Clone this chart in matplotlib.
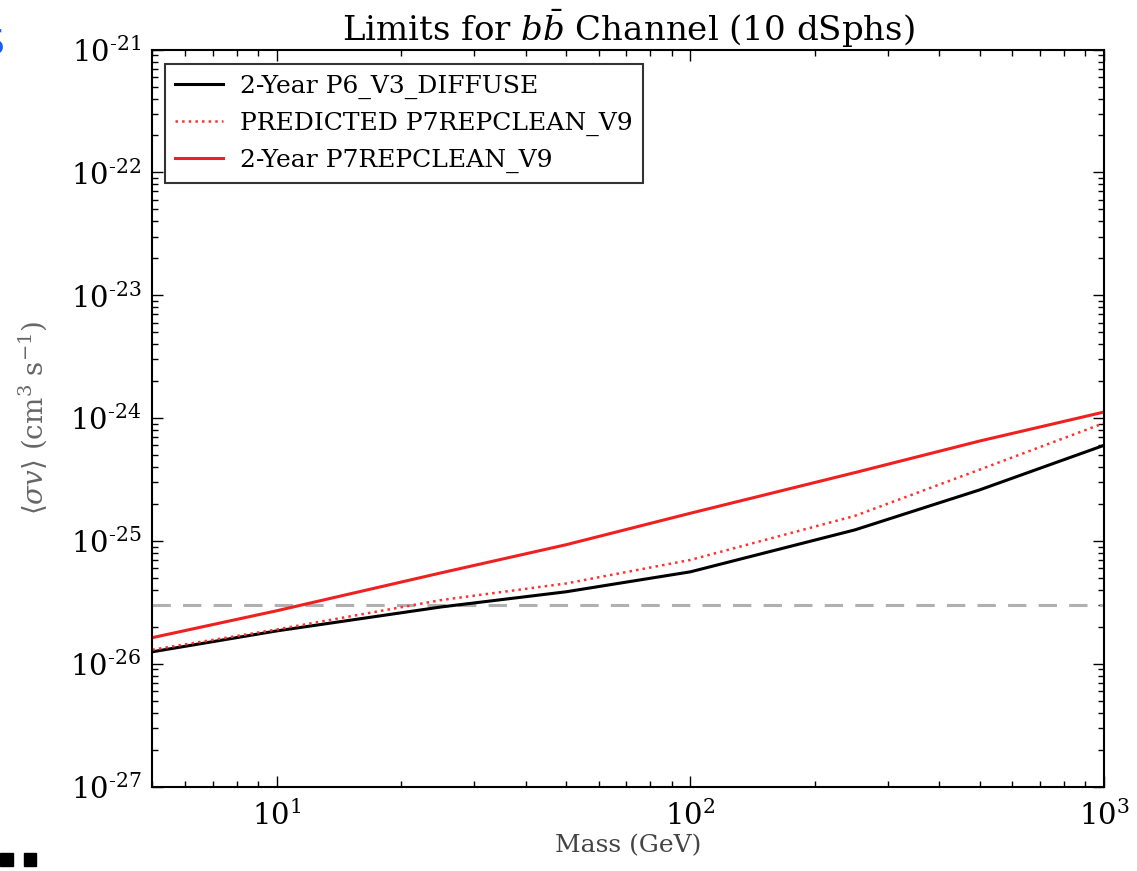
import matplotlib
matplotlib.use("Agg")
import matplotlib.pyplot as plt
from matplotlib.patches import Rectangle
import numpy as np

plt.rcParams['font.family'] = 'DejaVu Serif'
plt.rcParams['mathtext.fontset'] = 'dejavuserif'

# masses (GeV) and 95% upper limits on <sigma v> (cm^3 s^-1)
mass = [5, 10, 25, 50, 100, 250, 500, 1000]
p6_diffuse = [1.25e-26, 1.85e-26, 2.9e-26, 3.85e-26, 5.6e-26, 1.23e-25, 2.6e-25, 6.0e-25]
p7_predicted = [1.3e-26, 1.9e-26, 3.3e-26, 4.5e-26, 7.0e-26, 1.6e-25, 3.8e-25, 9.1e-25]
p7_repclean = [1.63e-26, 2.7e-26, 5.5e-26, 9.3e-26, 1.68e-25, 3.6e-25, 6.5e-25, 1.12e-24]
thermal_xsec = 3e-26

labels = ["2-Year P6_V3_DIFFUSE", "PREDICTED P7REPCLEAN_V9", "2-Year P7REPCLEAN_V9"]
y_exps = list(range(-27, -20))
x_exps = [1, 2, 3]

fig = plt.figure(figsize=(11.37, 8.71), dpi=100)
ax = fig.add_axes([0.134, 0.097, 0.837, 0.846])

ax.axhline(thermal_xsec, color='#b0b0b0', ls=(0, (6, 4)), lw=2.2)
ax.plot(mass, p6_diffuse, color='black', lw=2.2, label=labels[0])
ax.plot(mass, p7_predicted, color='#ff3030', ls=':', lw=1.8, label=labels[1])
ax.plot(mass, p7_repclean, color='#ee2020', lw=2.2, label=labels[2])

ax.set_xscale('log')
ax.set_yscale('log')
ax.set_xlim(5, 1000)
ax.set_ylim(1e-27, 1e-21)
ax.set_yticks([10.0**k for k in y_exps])
# hyphen instead of a full minus sign in the exponents
ax.set_yticklabels(['$10^{\u2010%d}$' % (-k) for k in y_exps])
ax.set_xticks([10.0**k for k in x_exps])
ax.set_xticklabels([r'$10^{%d}$' % k for k in x_exps])

ax.tick_params(which='both', direction='in', top=True, right=True, labelsize=21)
ax.tick_params(which='major', length=8, width=1)
ax.tick_params(which='minor', length=4, width=1)
ax.tick_params(axis='x', pad=10)
ax.tick_params(axis='y', pad=8)
for s in ax.spines.values():
    s.set_linewidth(1.5)

ax.set_title(r'Limits for $b\bar{b}$ Channel (10 dSphs)', fontsize=24.5, pad=6)
ax.set_xlabel('Mass (GeV)', fontsize=18, color='#444444', labelpad=2)
ax.set_ylabel(r'$\langle\sigma v\rangle$ (cm$^3$ s$^{-1}$)', fontsize=20,
              color='#666666', labelpad=15)

leg = ax.legend(loc='upper left', fontsize=18, handlelength=1.9,
                borderpad=0.4, labelspacing=0.52, handletextpad=0.7,
                borderaxespad=0.0, bbox_to_anchor=(0.0136, 0.980),
                fancybox=False)
leg.get_frame().set_edgecolor('black')
leg.get_frame().set_linewidth(1.5)

# stray marks at the page edges
fig.text(-0.016, 0.950, 'S', color='#1a5cff', fontsize=26, fontfamily='DejaVu Sans',
         va='center')
fig.patches.append(Rectangle((0.0, 0.006), 0.011, 0.015, transform=fig.transFigure,
                             color='black'))
fig.patches.append(Rectangle((0.021, 0.006), 0.011, 0.015, transform=fig.transFigure,
                             color='black'))

fig.savefig('out.png', dpi=100)
